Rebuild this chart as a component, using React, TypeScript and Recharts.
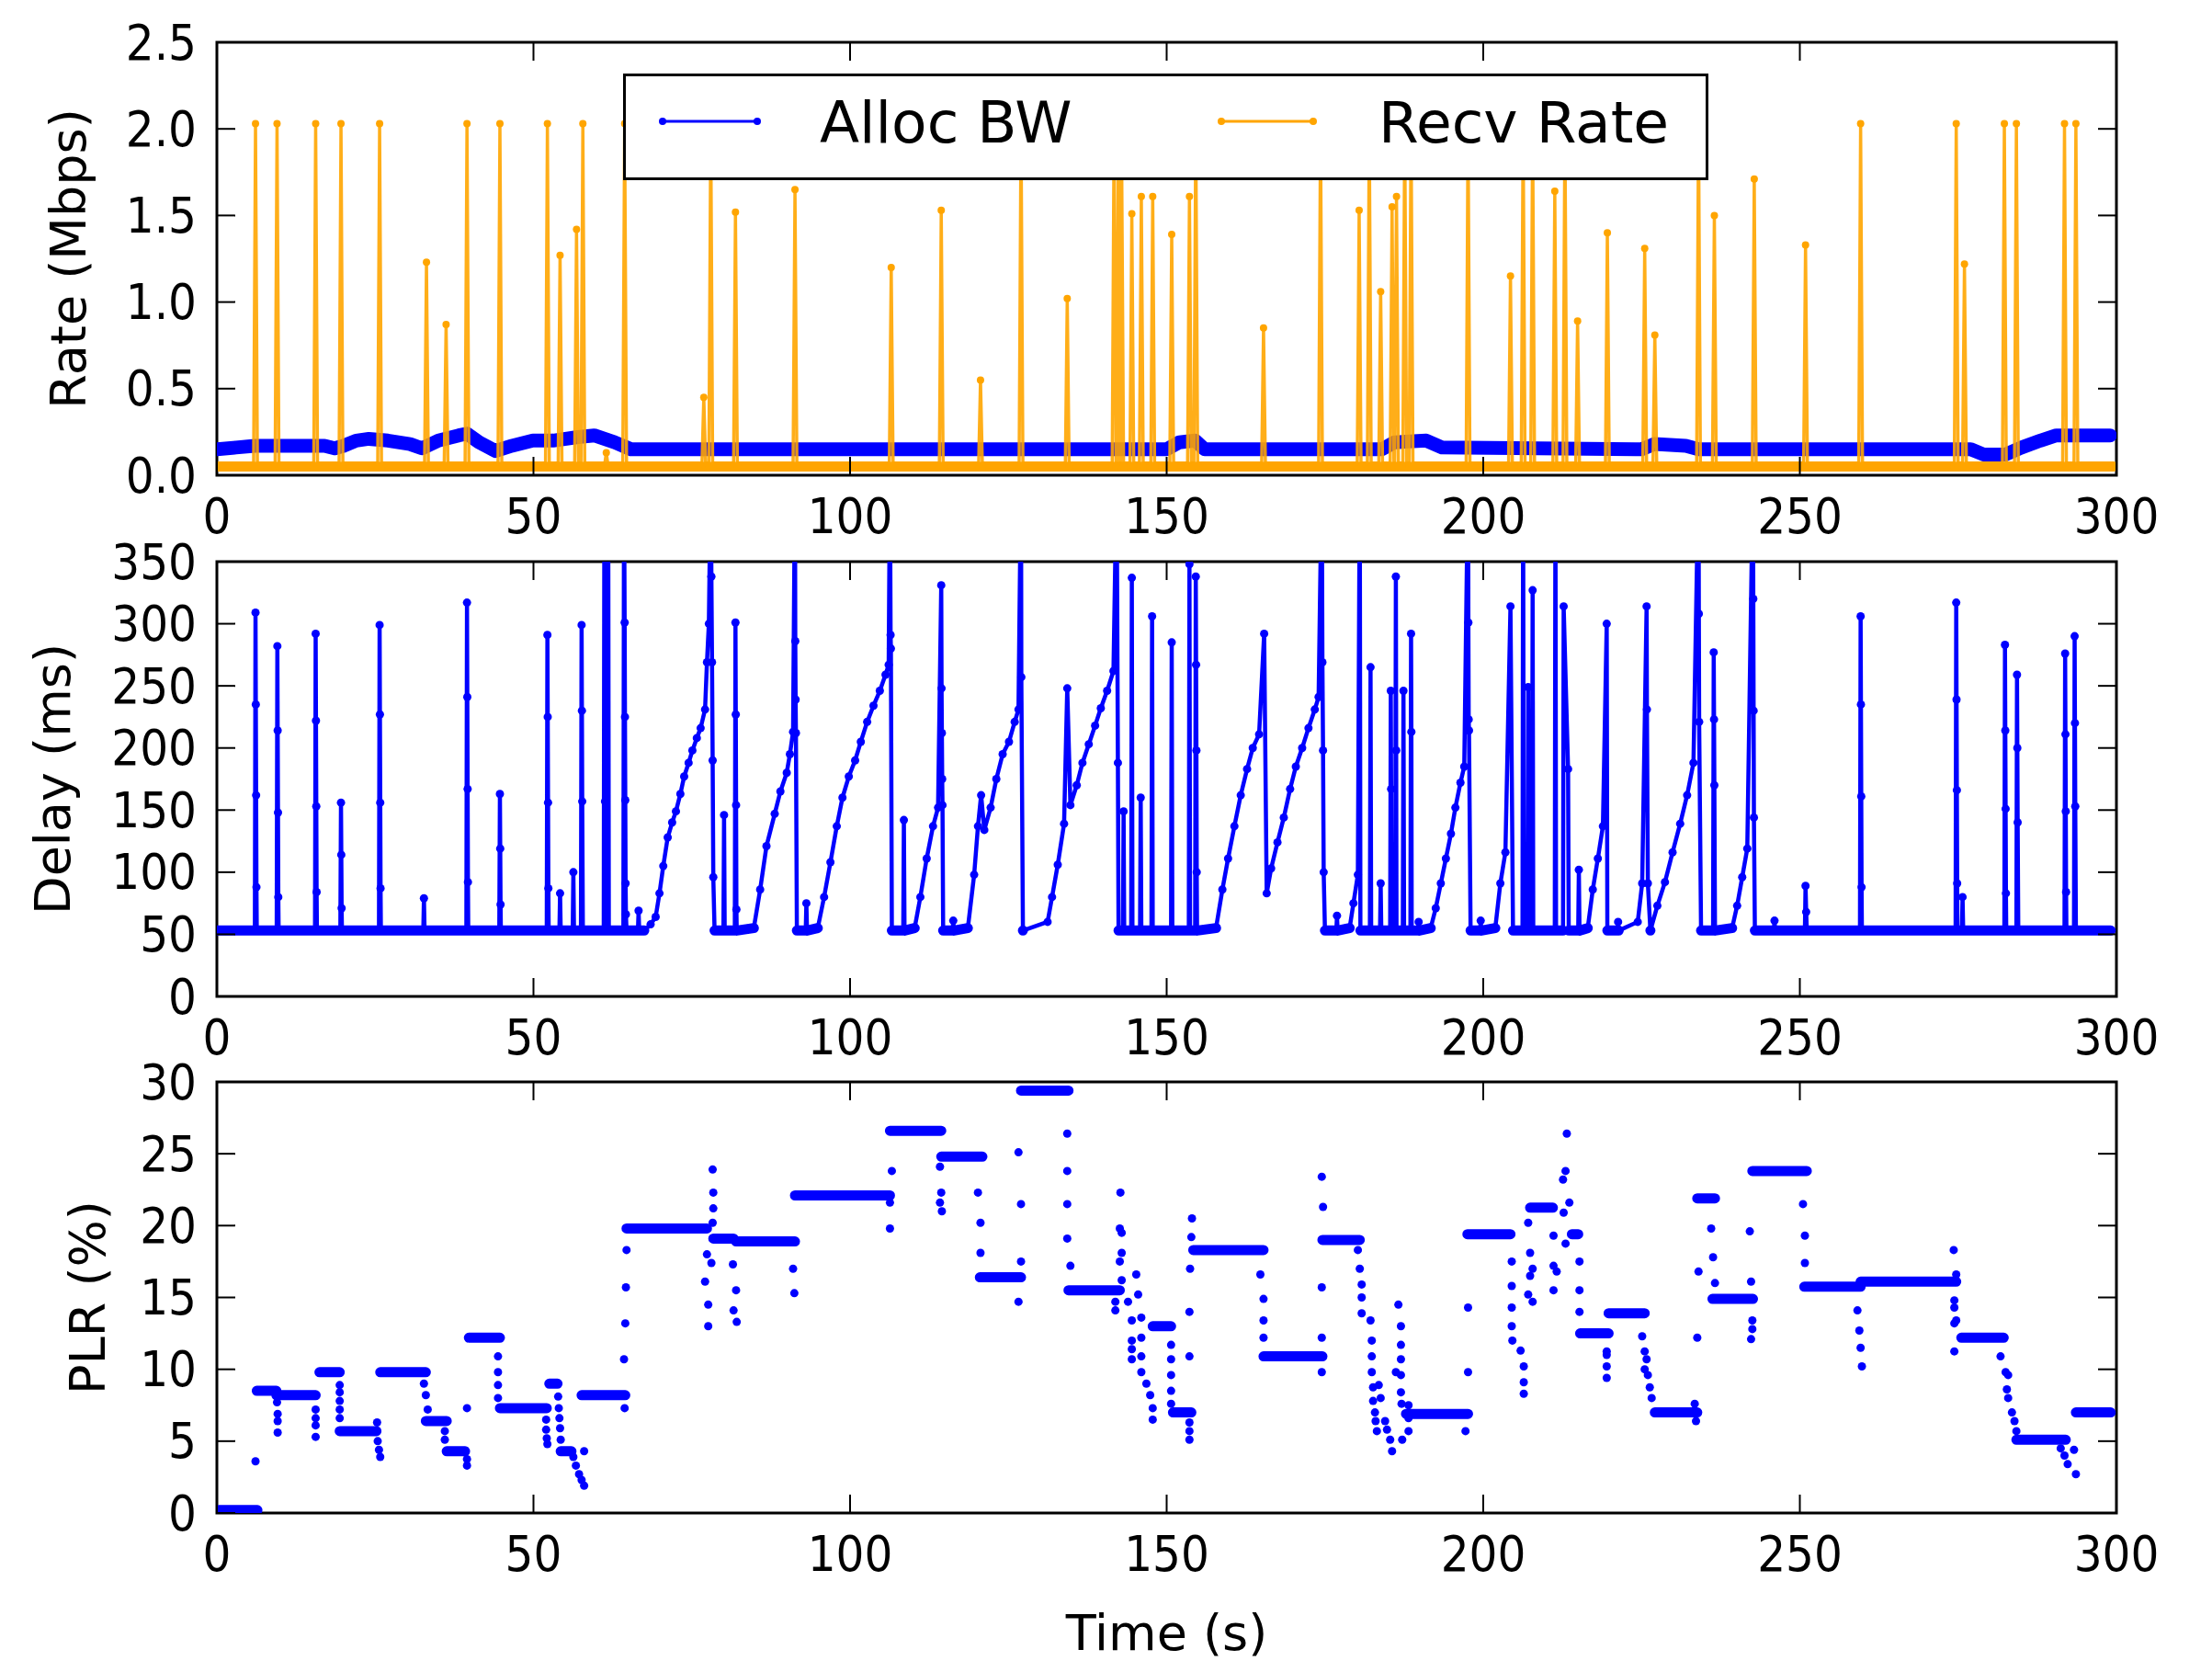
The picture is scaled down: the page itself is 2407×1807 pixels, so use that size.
import React from "react";
import {
  ComposedChart,
  Line,
  Scatter,
  XAxis,
  YAxis,
  ReferenceArea,
  Legend,
} from "recharts";

const BLUE = "#0000ff";
const ORANGE = "#ffa500";

const timeTicks = [0, 50, 100, 150, 200, 250, 300];
const rateTicks = [0, 0.5, 1, 1.5, 2, 2.5];
const delayTicks = [0, 50, 100, 150, 200, 250, 300, 350];
const plrTicks = [0, 5, 10, 15, 20, 25, 30];

// allocated bandwidth, [time s, Mbps]
const allocBw: [number, number][] = [
  [0, 0.15], [3, 0.16], [6, 0.17], [17, 0.17], [18.6, 0.155], [20, 0.17], [22, 0.2], [24, 0.21],
  [27, 0.2], [30.5, 0.18], [32.4, 0.155], [35, 0.2], [38.2, 0.23], [39.5, 0.24], [41.4, 0.19],
  [44, 0.14], [46.6, 0.17], [49.9, 0.2], [53.1, 0.2], [57, 0.22], [59.6, 0.23], [62.8, 0.19],
  [65.4, 0.15], [150, 0.15], [152, 0.19], [154.5, 0.2], [156, 0.15], [184, 0.15], [186, 0.19],
  [191, 0.2], [193.5, 0.16], [225, 0.15], [227, 0.18], [232, 0.17], [234, 0.15], [277, 0.15],
  [279, 0.12], [282.5, 0.12], [285, 0.16], [288, 0.2], [290.5, 0.23], [299, 0.23],
];

// receive rate: baseline plus spikes
const recvBase = 0.05;
const recvSpikeTimes = [
  6.1, 9.5, 15.6, 19.6, 25.7, 33.1, 36.2, 39.5, 44.7, 52.2, 54.2, 56.8, 57.8, 61.5, 64.4, 76.9,
  78.0, 81.9, 91.3, 106.5, 114.4, 120.6, 127.0, 134.3, 141.7, 142.4, 142.9, 144.5, 146.0, 147.8,
  150.8, 153.6, 154.6, 165.3, 174.3, 180.4, 182.0, 183.8, 185.6, 186.3, 187.6, 188.6, 197.6,
  204.3, 206.3, 207.8, 211.3, 212.9, 214.9, 219.6, 225.5, 227.1, 234.0, 236.5, 242.8, 250.9,
  259.6, 274.7, 276.0, 282.3, 284.2, 291.8, 293.6,
];
const recvSpikePeaks = [
  2.03, 2.03, 2.03, 2.03, 2.03, 1.23, 0.87, 2.03, 2.03, 2.03, 1.27, 1.42, 2.03, 0.13, 2.03, 0.45,
  2.03, 1.52, 1.65, 1.2, 1.53, 0.55, 2.03, 1.02, 2.03, 2.03, 1.8, 1.51, 1.61, 1.61,
  1.39, 1.61, 2.03, 0.85, 2.03, 1.53, 2.03, 1.06, 1.55, 1.61, 2.03, 2.03, 2.03,
  1.15, 2.03, 2.03, 1.64, 2.03, 0.89, 1.4, 1.31, 0.81, 2.03, 1.5, 1.71, 1.33,
  2.03, 2.03, 1.22, 2.03, 2.03, 2.03, 2.03,
];

// one-way delay, [time s, ms]
const delayBase = 53;
const delayPoints: [number, number][] = [
  [0, 53],
  [6.0, 53], [6.1, 309], [6.15, 235], [6.2, 162], [6.25, 88], [6.3, 53],
  [9.45, 53], [9.55, 282], [9.6, 214], [9.65, 148], [9.7, 80], [9.75, 53],
  [15.5, 53], [15.6, 292], [15.65, 222], [15.7, 153], [15.75, 84], [15.8, 53],
  [19.5, 53], [19.6, 156], [19.65, 114], [19.7, 71], [19.75, 53],
  [25.6, 53], [25.7, 299], [25.75, 227], [25.8, 156], [25.85, 87], [25.9, 53],
  [32.6, 53], [32.7, 79], [32.8, 53],
  [39.4, 53], [39.5, 317], [39.55, 241], [39.6, 167], [39.65, 92], [39.7, 53],
  [44.6, 53], [44.7, 163], [44.75, 119], [44.8, 74], [44.85, 53],
  [52.1, 53], [52.2, 291], [52.25, 225], [52.3, 156], [52.35, 87], [52.4, 53],
  [54.1, 53], [54.2, 83], [54.3, 53],
  [56.2, 53], [56.3, 100], [56.4, 53],
  [57.5, 53], [57.6, 299], [57.65, 230], [57.7, 157], [57.8, 53],
  [61.1, 53], [61.2, 420], [61.3, 157], [61.4, 53],
  [61.7, 53], [61.8, 420], [61.9, 53],
  [64.2, 53], [64.3, 420], [64.4, 301], [64.45, 225], [64.5, 158], [64.55, 91], [64.6, 66], [64.7, 53],
  [66.5, 53], [66.6, 69], [66.7, 53],
  [67.5, 53], [68.5, 58], [69.3, 64], [69.9, 83], [70.5, 105], [71.2, 128], [71.9, 140], [72.5, 149],
  [73.2, 163], [73.8, 177], [74.5, 188], [75.1, 198], [75.8, 208], [76.4, 216], [77.1, 231],
  [77.4, 269], [77.7, 300], [78.0, 420], [78.1, 338], [78.2, 269], [78.3, 190], [78.4, 96], [78.6, 53],
  [80.0, 53], [80.1, 146], [80.2, 53],
  [81.8, 53], [81.9, 301], [81.95, 227], [82.0, 154], [82.05, 70], [82.1, 53],
  [84.8, 55], [85.8, 86], [86.8, 121], [88.1, 147], [89.0, 165], [90.0, 180], [90.5, 195], [91.0, 213],
  [91.3, 420], [91.35, 286], [91.4, 239], [91.45, 212], [91.6, 53],
  [93.0, 53], [93.1, 75], [93.2, 53],
  [94.9, 55], [95.9, 80], [96.9, 108], [97.9, 137], [98.8, 160], [99.8, 177], [100.8, 190],
  [101.7, 205], [102.7, 221], [103.7, 234], [104.7, 246], [105.6, 259], [106.1, 267],
  [106.3, 420], [106.4, 291], [106.45, 280], [106.6, 53],
  [108.4, 53], [108.5, 142], [108.6, 53],
  [110.2, 55], [111.1, 80], [112.1, 111], [113.1, 137], [113.9, 152],
  [114.4, 331], [114.45, 248], [114.5, 212], [114.55, 175], [114.6, 154], [114.7, 53],
  [116.2, 53], [116.3, 61], [116.4, 53],
  [118.6, 55], [119.6, 98], [120.2, 137], [120.7, 162], [121.2, 134], [122.2, 152], [123.1, 175],
  [124.1, 195], [125.1, 205], [126.0, 221], [126.6, 231], [127.0, 420], [127.05, 257], [127.3, 53],
  [131.2, 60], [131.9, 80], [132.8, 106], [133.8, 139], [134.3, 248], [134.8, 154], [135.8, 170],
  [136.7, 188], [137.7, 203], [138.7, 218], [139.6, 232], [140.6, 246], [141.6, 262],
  [142.1, 420], [142.3, 188], [142.4, 53],
  [143.1, 53], [143.2, 149], [143.3, 53],
  [144.4, 53], [144.5, 337], [144.6, 53],
  [145.8, 53], [145.9, 160], [146.0, 53],
  [147.6, 53], [147.7, 306], [147.8, 53],
  [150.7, 53], [150.8, 285], [150.9, 53],
  [153.5, 53], [153.6, 348], [153.7, 53],
  [154.5, 53], [154.6, 338], [154.65, 267], [154.7, 198], [154.75, 100], [154.8, 53],
  [157.8, 55], [158.8, 86], [159.7, 111], [160.7, 137], [161.7, 162], [162.7, 183], [163.6, 200],
  [164.6, 211], [165.4, 292], [165.8, 83], [166.5, 103], [167.5, 124], [168.5, 144], [169.5, 167],
  [170.4, 185], [171.4, 200], [172.4, 216], [173.4, 231], [174.0, 241],
  [174.5, 420], [174.6, 269], [174.7, 198], [174.8, 100], [175.0, 53],
  [176.8, 53], [176.9, 65], [177.0, 53],
  [178.9, 55], [179.5, 75], [180.2, 98], [180.5, 420], [180.6, 53],
  [182.1, 53], [182.2, 265], [182.3, 53],
  [183.7, 53], [183.8, 91], [183.9, 53],
  [185.3, 53], [185.4, 246], [185.45, 167], [185.5, 53],
  [186.1, 53], [186.2, 338], [186.25, 198], [186.3, 53],
  [187.3, 53], [187.4, 246], [187.5, 53],
  [188.5, 53], [188.6, 292], [188.65, 213], [188.7, 53],
  [189.7, 53], [189.8, 60], [189.9, 53],
  [191.7, 55], [192.5, 71], [193.3, 91], [194.1, 111], [194.9, 131], [195.6, 152], [196.4, 172],
  [197.0, 185], [197.6, 420], [197.65, 301], [197.7, 223], [197.75, 214], [198.0, 53],
  [199.5, 53], [199.6, 61], [199.7, 53],
  [201.9, 55], [202.7, 91], [203.5, 116], [204.3, 314], [204.7, 53],
  [206.2, 53], [206.3, 420], [206.4, 53],
  [207.0, 53], [207.1, 249], [207.2, 53],
  [207.7, 53], [207.8, 327], [207.9, 53],
  [211.3, 53], [211.4, 420], [211.5, 53],
  [212.6, 53], [212.7, 314], [213.4, 183], [213.5, 53],
  [215.0, 53], [215.1, 102], [215.2, 53],
  [216.5, 55], [217.3, 86], [218.1, 111], [218.9, 137], [219.5, 300], [219.6, 53],
  [221.2, 53], [221.3, 60], [221.4, 53],
  [224.4, 60], [225.1, 91], [225.8, 314], [225.85, 231], [226.0, 91], [226.4, 53],
  [227.5, 73], [228.7, 92], [229.9, 116], [231.1, 139], [232.2, 162], [233.2, 188],
  [234.0, 420], [234.05, 308], [234.1, 221], [234.4, 53],
  [236.3, 53], [236.4, 277], [236.45, 223], [236.5, 170], [236.6, 53],
  [239.3, 55], [240.1, 73], [240.9, 96], [241.7, 119],
  [242.6, 420], [242.65, 320], [242.7, 230], [242.75, 144], [242.9, 53],
  [245.9, 53], [246.0, 61], [246.1, 53],
  [250.8, 53], [250.9, 89], [251.0, 68], [251.1, 53],
  [259.5, 53], [259.6, 306], [259.65, 235], [259.7, 161], [259.75, 88], [259.8, 53],
  [274.6, 53], [274.7, 317], [274.75, 239], [274.8, 166], [274.85, 91], [274.9, 53],
  [275.6, 53], [275.7, 80], [275.8, 53],
  [282.3, 53], [282.4, 283], [282.45, 214], [282.5, 151], [282.55, 83], [282.6, 53],
  [284.2, 53], [284.3, 259], [284.35, 200], [284.4, 140], [284.5, 53],
  [291.8, 53], [291.9, 276], [291.95, 211], [292.0, 149], [292.05, 84], [292.1, 53],
  [293.3, 53], [293.4, 290], [293.45, 220], [293.5, 153], [293.6, 53],
  [299.1, 53],
];

// packet loss plateaus, [from s, to s, %]
const plrSteps: [number, number, number][] = [
  [0.3, 6.4, 0.2], [6.3, 9.4, 8.5], [9.4, 15.6, 8.2], [16.2, 19.4, 9.8], [19.4, 25.2, 5.7],
  [25.8, 33.0, 9.8], [33.0, 36.3, 6.4], [36.3, 39.2, 4.3], [39.8, 44.7, 12.2], [44.7, 52.1, 7.3],
  [52.5, 53.8, 9.0], [54.3, 56.0, 4.3], [57.6, 64.5, 8.2], [64.7, 77.4, 19.8], [78.4, 81.6, 19.1],
  [82.0, 91.3, 18.9], [91.3, 106.3, 22.1], [106.3, 114.4, 26.6], [114.4, 120.9, 24.8],
  [120.5, 127.0, 16.4], [127.0, 134.5, 29.4], [134.5, 142.6, 15.5], [147.8, 150.7, 13.0],
  [151.0, 153.9, 7.0], [154.2, 165.3, 18.3], [165.3, 174.6, 10.9], [174.6, 180.5, 19.0],
  [187.8, 197.6, 6.9], [197.5, 204.3, 19.4], [207.4, 211.0, 21.25], [214.0, 215.0, 19.4],
  [215.3, 219.8, 12.5], [219.8, 225.5, 13.9], [227.1, 233.8, 7.0], [233.8, 236.6, 21.9],
  [236.2, 242.6, 14.9], [242.5, 251.1, 23.8], [250.7, 259.6, 15.75], [259.6, 274.7, 16.1],
  [275.5, 282.2, 12.2], [284.2, 292.0, 5.1], [293.6, 299.1, 7.0],
];

// packet loss samples between plateaus, [time s, %]
const plrDots: [number, number][] = [
  [6.1, 3.6], [9.5, 7.7], [9.6, 6.9], [9.6, 6.4], [9.6, 5.6],
  [15.6, 7.2], [15.6, 6.6], [15.6, 6.1], [15.6, 5.3],
  [19.4, 8.9], [19.4, 8.4], [19.4, 7.8], [19.4, 7.2], [19.4, 6.6],
  [25.3, 6.3], [25.4, 5.0], [25.6, 4.4], [25.8, 3.9],
  [32.7, 9.0], [33.0, 8.2], [33.3, 7.2], [36.0, 5.7], [36.0, 5.1],
  [39.5, 3.75], [39.5, 3.3], [39.5, 7.3],
  [44.4, 10.9], [44.4, 9.8], [44.4, 8.9], [44.4, 8.0],
  [52.0, 6.5], [52.0, 5.8], [52.1, 5.2], [52.2, 4.8],
  [53.9, 8.1], [54.0, 7.3], [54.1, 6.6], [54.2, 5.9], [54.3, 5.1],
  [56.3, 3.9], [56.7, 3.3], [57.2, 2.7], [57.6, 2.3], [58.0, 1.9], [58.0, 4.3],
  [64.4, 7.3], [64.3, 10.7], [64.5, 13.2], [64.6, 15.7], [64.7, 18.3],
  [77.4, 18.0], [78.1, 17.4], [77.1, 16.1], [77.6, 14.5], [77.6, 13.0],
  [78.3, 20.2], [78.4, 21.2], [78.4, 22.3], [78.3, 23.9],
  [81.5, 17.3], [82.0, 15.5], [81.6, 14.1], [82.1, 13.3],
  [91.0, 17.0], [91.2, 15.3],
  [106.3, 21.6], [106.3, 19.8], [106.6, 23.8],
  [114.2, 24.1], [114.4, 22.3], [114.2, 21.6], [114.5, 21.0],
  [120.2, 22.3], [120.6, 20.2], [120.6, 18.1],
  [126.6, 25.1], [127.0, 21.5], [127.0, 17.5], [126.6, 14.7],
  [134.3, 26.4], [134.3, 23.8], [134.3, 21.5], [134.3, 19.1], [134.8, 17.2],
  [142.7, 22.3], [142.6, 19.8], [142.9, 19.5], [142.9, 18.1], [142.6, 17.5], [142.9, 16.2],
  [141.9, 14.7], [141.9, 14.1], [143.9, 14.7], [145.2, 16.6], [145.5, 15.2], [144.5, 13.4],
  [146.0, 13.6], [144.5, 12.0], [146.0, 12.2], [144.5, 11.4], [146.0, 10.9], [144.5, 10.7],
  [146.0, 9.8], [146.8, 9.0], [147.4, 8.2], [147.8, 7.3], [147.8, 6.5],
  [150.7, 11.7], [150.7, 10.7], [150.7, 9.6], [150.7, 8.5], [150.7, 7.6],
  [153.6, 6.3], [153.6, 5.7], [153.6, 5.1], [153.6, 10.9], [153.6, 14.0], [153.7, 17.0],
  [153.9, 19.2], [154.0, 20.5],
  [164.8, 16.6], [165.3, 14.9], [165.3, 13.4], [165.3, 12.2],
  [174.5, 23.4], [174.7, 21.3], [174.5, 15.7], [174.5, 12.2], [174.5, 9.8],
  [180.2, 18.3], [180.5, 17.0], [180.8, 15.9], [180.8, 15.0], [180.8, 13.9], [182.2, 13.4],
  [182.4, 12.0], [182.4, 10.9], [182.4, 9.8], [182.6, 8.75], [182.6, 7.8], [182.9, 7.0],
  [183.0, 6.4], [183.2, 5.7],
  [183.5, 8.9], [183.8, 8.0], [184.5, 6.4], [184.8, 5.8], [185.3, 5.1], [185.6, 4.3],
  [186.6, 14.5], [187.0, 13.0], [187.0, 11.7], [187.0, 10.7], [187.0, 9.6], [186.2, 9.8],
  [187.0, 8.4], [187.1, 7.6], [187.2, 5.1], [188.2, 7.5], [188.2, 6.6], [188.2, 5.7],
  [197.2, 5.7], [197.6, 9.8], [197.6, 14.3],
  [204.5, 17.5], [204.5, 15.8], [204.5, 14.3], [204.5, 13.0], [204.6, 12.0], [205.9, 11.3],
  [206.4, 10.2], [206.4, 9.1], [206.4, 8.3], [207.1, 20.2], [207.4, 18.1], [207.8, 17.0],
  [207.4, 16.5], [207.1, 15.2], [207.8, 14.7],
  [211.1, 19.3], [211.1, 17.2], [211.6, 16.8], [211.1, 15.5], [212.6, 23.2], [213.0, 23.8],
  [213.2, 26.4], [213.6, 21.6], [212.7, 20.9], [213.0, 18.75], [215.2, 17.5], [215.2, 15.5],
  [215.2, 14.0],
  [219.5, 11.25], [219.5, 11.0], [219.5, 10.2], [219.5, 9.4],
  [225.1, 12.3], [225.5, 11.25], [225.8, 10.7], [225.5, 10.0], [226.0, 9.6], [226.3, 8.75],
  [226.6, 8.0],
  [233.4, 7.6], [233.6, 6.4], [233.8, 12.2], [234.0, 16.8],
  [236.0, 19.8], [236.3, 17.8], [236.6, 16.0],
  [242.1, 19.6], [242.3, 16.1], [242.5, 13.4], [242.5, 12.8], [242.3, 12.1],
  [250.5, 21.5], [250.8, 19.3], [250.8, 17.4],
  [259.1, 14.1], [259.4, 12.7], [259.6, 11.5], [259.8, 10.2],
  [274.3, 18.3], [274.7, 16.6], [274.4, 14.8], [274.4, 14.3], [274.7, 13.4], [274.4, 13.2],
  [274.4, 11.25],
  [281.7, 10.9], [282.5, 9.8], [282.9, 9.6], [282.7, 8.6], [282.9, 8.0], [283.5, 7.0],
  [283.9, 6.4], [284.2, 5.7],
  [291.2, 4.5], [291.8, 4.0], [292.3, 3.4], [293.6, 2.7], [293.3, 4.4],
];

// ---- series built from the arrays above ----
const allocData = allocBw.map(([t, v]) => ({ t, v }));

const recvData = [
  { t: 0, v: recvBase },
  ...recvSpikeTimes.flatMap((t, i) => [
    { t: t - 0.3, v: recvBase },
    { t, v: recvSpikePeaks[i] },
    { t: t + 0.3, v: recvBase },
  ]),
  { t: 299.5, v: recvBase },
];
// dense samples at the floor render as a thick band
const recvBand = recvData.map((p) => ({ t: p.t, v: p.v <= recvBase ? p.v : null }));

const delayData = delayPoints.map(([t, v]) => ({ t, v }));
const delayBand = delayData.map((p) => ({ t: p.t, v: p.v <= delayBase + 2 ? p.v : null }));

const plrStepData = plrSteps.flatMap(([a, b, v]) => [
  { t: a, v },
  { t: b, v },
  { t: b + 0.01, v: null },
]);
const plrDotData = plrDots.map(([t, v]) => ({ t, v }));

// ---- layout ----
const W = 2407;
const PLOT_LEFT = 236;
const PLOT_RIGHT = 2303;
const PLOT_W = PLOT_RIGHT - PLOT_LEFT;

const tickFont: React.CSSProperties = {
  fontFamily: '"DejaVu Sans Condensed", "DejaVu Sans", sans-serif',
  fontStretch: "condensed",
  fontSize: 54,
};
const labelFont: React.CSSProperties = {
  fontFamily: '"DejaVu Sans", sans-serif',
  fontSize: 54,
};

const makeXTick = (plotH: number) => (p: any) => {
  const { x, y, payload } = p;
  return (
    <g>
      <line x1={x} y1={y} x2={x} y2={y - 20} stroke="#000" strokeWidth={2} />
      <line x1={x} y1={y - plotH} x2={x} y2={y - plotH + 20} stroke="#000" strokeWidth={2} />
      <text x={x} y={y + 44} textAnchor="middle" dominantBaseline="central" fill="#000" style={tickFont}>
        {payload.value}
      </text>
    </g>
  );
};

const makeYTick = (fmt: (v: number) => string) => (p: any) => {
  const { x, y, payload } = p;
  return (
    <g>
      <line x1={x} y1={y} x2={x + 20} y2={y} stroke="#000" strokeWidth={2} />
      <line x1={x + PLOT_W} y1={y} x2={x + PLOT_W - 20} y2={y} stroke="#000" strokeWidth={2} />
      <text x={x - 22} y={y} textAnchor="end" dominantBaseline="central" fill="#000" style={tickFont}>
        {fmt(payload.value)}
      </text>
    </g>
  );
};

const yTitle = (text: string, x: number, cy: number) => () =>
  (
    <text
      x={x}
      y={cy}
      transform={`rotate(-90 ${x} ${cy})`}
      textAnchor="middle"
      dominantBaseline="central"
      fill="#000"
      style={labelFont}
    >
      {text}
    </text>
  );

const renderLegend = () => (
  <svg width={1181} height={116} style={{ display: "block" }}>
    <rect x={1.5} y={1.5} width={1178} height={113} fill="#fff" stroke="#000" strokeWidth={3} />
    <line x1={43} y1={52} x2={146} y2={52} stroke={BLUE} strokeWidth={3} />
    <circle cx={43} cy={52} r={4} fill={BLUE} />
    <circle cx={146} cy={52} r={4} fill={BLUE} />
    <text x={214} y={75} fill="#000" style={{ fontFamily: '"DejaVu Sans", sans-serif', fontSize: 63 }}>
      Alloc BW
    </text>
    <line x1={651} y1={52} x2={751} y2={52} stroke={ORANGE} strokeWidth={3} />
    <circle cx={651} cy={52} r={4} fill={ORANGE} />
    <circle cx={751} cy={52} r={4} fill={ORANGE} />
    <text x={822} y={75} fill="#000" style={{ fontFamily: '"DejaVu Sans", sans-serif', fontSize: 63 }}>
      Recv Rate
    </text>
  </svg>
);

type PanelProps = {
  top: number;
  height: number;
  plotTop: number;
  plotBottom: number;
  yDomain: [number, number];
  yTicks: number[];
  fmt: (v: number) => string;
  title: string;
  titleX: number;
  xTitle?: string;
  children: React.ReactNode;
};

function Panel({ top, height, plotTop, plotBottom, yDomain, yTicks, fmt, title, titleX, xTitle, children }: PanelProps) {
  const plotH = plotBottom - plotTop;
  return (
    <div style={{ position: "absolute", left: 0, top }}>
      <ComposedChart
        width={W}
        height={height}
        margin={{ top: plotTop, left: PLOT_LEFT - 60, right: W - PLOT_RIGHT, bottom: height - plotBottom - 30 }}
      >
        <XAxis
          dataKey="t"
          type="number"
          domain={[0, 300]}
          ticks={timeTicks}
          interval={0}
          allowDataOverflow
          height={30}
          axisLine={false}
          tickLine={false}
          tickSize={0}
          tickMargin={0}
          tick={makeXTick(plotH)}
          label={
            xTitle
              ? () => (
                  <text
                    x={(PLOT_LEFT + PLOT_RIGHT) / 2}
                    y={plotBottom + 130}
                    textAnchor="middle"
                    dominantBaseline="central"
                    fill="#000"
                    style={labelFont}
                  >
                    {xTitle}
                  </text>
                )
              : undefined
          }
        />
        <YAxis
          type="number"
          domain={yDomain}
          ticks={yTicks}
          interval={0}
          allowDataOverflow
          width={60}
          axisLine={false}
          tickLine={false}
          tickSize={0}
          tickMargin={0}
          tick={makeYTick(fmt)}
          label={yTitle(title, titleX, plotTop + plotH / 2)}
        />
        <ReferenceArea
          x1={0}
          x2={300}
          y1={yDomain[0]}
          y2={yDomain[1]}
          fill="none"
          fillOpacity={0}
          stroke="#000"
          strokeWidth={3}
        />
        {children}
      </ComposedChart>
    </div>
  );
}

export default function App() {
  return (
    <div style={{ position: "absolute", left: 0, top: 0, width: W, height: 1807, background: "#fff" }}>
      <Panel
        top={0}
        height={612}
        plotTop={46}
        plotBottom={517}
        yDomain={[0, 2.5]}
        yTicks={rateTicks}
        fmt={(v) => v.toFixed(1)}
        title="Rate (Mbps)"
        titleX={74}
      >
        <Line
          data={allocData}
          dataKey="v"
          name="Alloc BW"
          type="linear"
          stroke={BLUE}
          strokeWidth={15}
          strokeLinecap="round"
          strokeLinejoin="round"
          dot={false}
          isAnimationActive={false}
        />
        <Line
          data={recvBand}
          dataKey="v"
          legendType="none"
          type="linear"
          stroke={ORANGE}
          strokeWidth={11}
          strokeLinecap="round"
          dot={false}
          connectNulls={false}
          isAnimationActive={false}
        />
        <Line
          data={recvData}
          dataKey="v"
          name="Recv Rate"
          type="linear"
          stroke={ORANGE}
          strokeWidth={3.5}
          strokeOpacity={0.9}
          dot={{ r: 4, fill: ORANGE, stroke: "none" }}
          isAnimationActive={false}
        />
        <Legend
          layout="horizontal"
          verticalAlign="middle"
          align="center"
          wrapperStyle={{ left: 678, top: 80, width: 1181, height: 116 }}
          content={renderLegend}
        />
      </Panel>

      <Panel
        top={560}
        height={620}
        plotTop={51}
        plotBottom={524}
        yDomain={[0, 350]}
        yTicks={delayTicks}
        fmt={(v) => String(v)}
        title="Delay (ms)"
        titleX={57}
      >
        <Line
          data={delayBand}
          dataKey="v"
          type="linear"
          stroke={BLUE}
          strokeWidth={11}
          strokeLinecap="round"
          dot={false}
          connectNulls={false}
          isAnimationActive={false}
        />
        <Line
          data={delayData}
          dataKey="v"
          name="Delay"
          type="linear"
          stroke={BLUE}
          strokeWidth={4.5}
          strokeLinejoin="round"
          dot={{ r: 4.5, fill: BLUE, stroke: "none" }}
          isAnimationActive={false}
        />
      </Panel>

      <Panel
        top={1130}
        height={677}
        plotTop={47}
        plotBottom={516}
        yDomain={[0, 30]}
        yTicks={plrTicks}
        fmt={(v) => String(v)}
        title="PLR (%)"
        titleX={95}
        xTitle="Time (s)"
      >
        <Line
          data={plrStepData}
          dataKey="v"
          name="PLR"
          type="linear"
          stroke={BLUE}
          strokeWidth={11}
          strokeLinecap="round"
          dot={false}
          connectNulls={false}
          isAnimationActive={false}
        />
        <Scatter
          data={plrDotData}
          dataKey="v"
          fill={BLUE}
          isAnimationActive={false}
          shape={(p: any) => <circle cx={p.cx} cy={p.cy} r={4.5} fill={BLUE} />}
        />
      </Panel>
    </div>
  );
}
